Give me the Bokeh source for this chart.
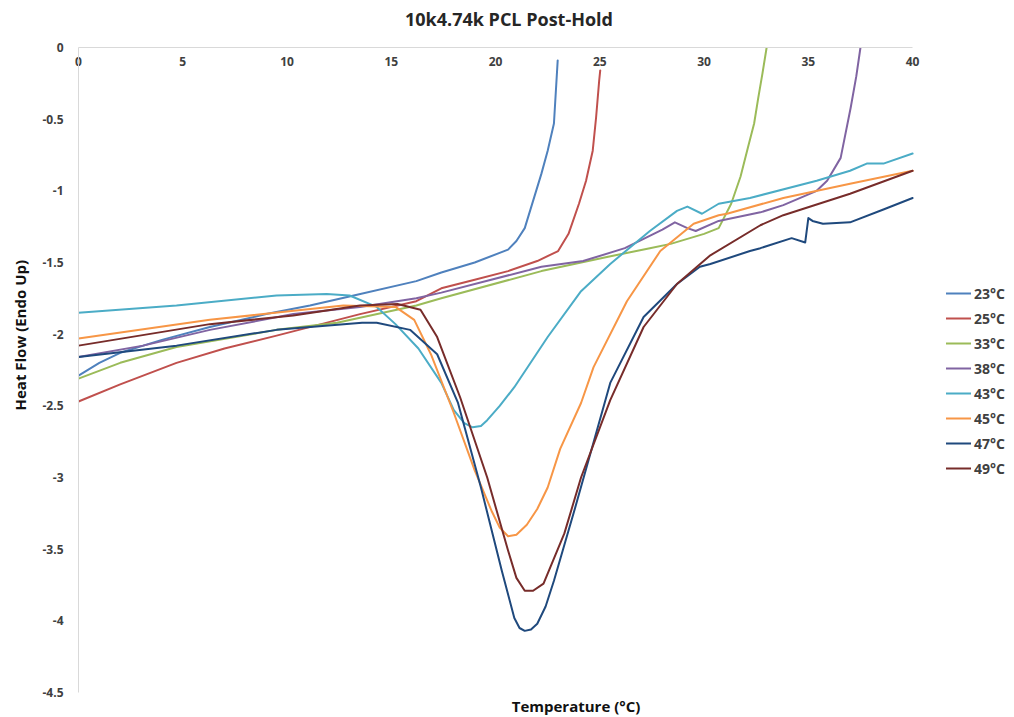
from bokeh.plotting import figure
from bokeh.models import Range1d, FixedTicker, Legend, LegendItem, Title
from bokeh.embed import file_html
from bokeh.resources import INLINE

# ---------------- data ----------------
title_text = "10k4.74k PCL Post-Hold"
x_title = "Temperature (°C)"
y_title = "Heat Flow (Endo Up)"

x_ticks = [0, 5, 10, 15, 20, 25, 30, 35, 40]
y_ticks = [0, -0.5, -1, -1.5, -2, -2.5, -3, -3.5, -4, -4.5]
y_tick_labels = ["0", "-0.5", "-1", "-1.5", "-2", "-2.5", "-3", "-3.5", "-4", "-4.5"]

series_names = ["23°C", "25°C", "33°C", "38°C", "43°C", "45°C", "47°C", "49°C"]
series_colors = ["#4F81BD", "#C0504D", "#9BBB59", "#8064A2", "#4BACC6", "#F79646", "#1F497D", "#772C2A"]

t23 = [0, 1, 2, 4, 6.3, 9, 11.1, 13.2, 16.2, 17.4, 19, 20.6, 21.0, 21.4, 21.8, 22.2, 22.5, 22.8, 22.98]
h23 = [-2.29, -2.20, -2.13, -2.04, -1.95, -1.86, -1.80, -1.73, -1.63, -1.57, -1.50, -1.41, -1.35, -1.26, -1.07, -0.88, -0.72, -0.53, -0.09]

t25 = [0, 2, 4.7, 7, 9.5, 13.5, 16.2, 17.4, 19, 20.6, 22, 23.0, 23.5, 24.0, 24.34, 24.66, 24.82, 24.97, 25.02]
h25 = [-2.47, -2.35, -2.20, -2.10, -2.01, -1.86, -1.77, -1.68, -1.62, -1.56, -1.49, -1.42, -1.30, -1.09, -0.93, -0.72, -0.49, -0.23, -0.16]

t33 = [0, 2, 4.7, 9.5, 12.4, 16.2, 17.4, 22.2, 25.4, 27.4, 28.4, 30.0, 30.7, 31.3, 31.75, 32.1, 32.4, 32.6, 32.8, 33.0]
h33 = [-2.31, -2.20, -2.09, -1.97, -1.92, -1.80, -1.75, -1.56, -1.46, -1.40, -1.37, -1.30, -1.26, -1.09, -0.90, -0.70, -0.53, -0.35, -0.18, 0.0]

t38 = [0, 3.1, 6.3, 10.3, 13.5, 16.2, 17.4, 22.2, 24.2, 26.2, 28.0, 28.6, 29.2, 29.6, 30.7, 32.7, 33.8, 35.4, 35.9, 36.55, 37.03, 37.3, 37.5]
h38 = [-2.16, -2.08, -1.97, -1.86, -1.81, -1.75, -1.71, -1.53, -1.49, -1.40, -1.27, -1.22, -1.26, -1.28, -1.21, -1.15, -1.10, -1.00, -0.93, -0.77, -0.42, -0.20, 0.0]

t43 = [0, 4.7, 9.5, 11.9, 13.0, 14.3, 15.2, 16.3, 17.4, 18.0, 18.5, 18.9, 19.3, 19.6, 20.2, 20.9, 22.5, 24.1, 25.5, 27.4, 28.7, 29.2, 29.9, 30.7, 32.2, 35.4, 37.0, 37.8, 38.6, 40.0]
h43 = [-1.85, -1.80, -1.73, -1.72, -1.73, -1.81, -1.93, -2.10, -2.34, -2.53, -2.62, -2.65, -2.64, -2.60, -2.50, -2.37, -2.02, -1.70, -1.51, -1.28, -1.14, -1.11, -1.16, -1.09, -1.05, -0.93, -0.86, -0.81, -0.81, -0.74]

t45 = [0, 6.3, 12.7, 15.2, 16.1, 16.9, 18.0, 19.0, 19.8, 20.2, 20.6, 21.0, 21.5, 22.0, 22.5, 23.1, 24.1, 24.7, 26.3, 27.9, 29.5, 30.7, 31.1, 33.8, 37.0, 40.0]
h45 = [-2.03, -1.90, -1.80, -1.81, -1.90, -2.14, -2.55, -2.95, -3.23, -3.35, -3.41, -3.40, -3.33, -3.22, -3.07, -2.80, -2.48, -2.23, -1.77, -1.42, -1.23, -1.17, -1.16, -1.05, -0.95, -0.86]

t47 = [0, 4.7, 9.5, 13.6, 14.3, 15.9, 17.2, 18.2, 19.3, 20.3, 20.9, 21.15, 21.4, 21.7, 22.0, 22.4, 22.8, 23.8, 25.5, 27.1, 28.7, 29.8, 30.3, 32.2, 32.7, 34.2, 34.85, 35.0, 35.2, 35.7, 37.0, 38.6, 40.0]
h47 = [-2.16, -2.08, -1.97, -1.92, -1.92, -1.97, -2.14, -2.48, -3.07, -3.65, -3.98, -4.05, -4.07, -4.06, -4.02, -3.90, -3.72, -3.22, -2.34, -1.88, -1.65, -1.53, -1.51, -1.42, -1.40, -1.33, -1.36, -1.19, -1.21, -1.23, -1.22, -1.13, -1.05]

t49 = [0, 6.3, 10.3, 13.5, 15.3, 16.4, 17.2, 18.3, 19.6, 20.6, 21.0, 21.4, 21.8, 22.3, 23.3, 24.1, 25.5, 27.1, 28.7, 30.3, 32.7, 33.8, 37.0, 40.0]
h49 = [-2.08, -1.93, -1.87, -1.80, -1.79, -1.83, -2.02, -2.44, -3.00, -3.51, -3.70, -3.79, -3.79, -3.74, -3.39, -3.00, -2.46, -1.95, -1.65, -1.45, -1.24, -1.17, -1.02, -0.86]

series_t = [t23, t25, t33, t38, t43, t45, t47, t49]
series_h = [h23, h25, h33, h38, h43, h45, h47, h49]

# ---------------- figure ----------------
FONT = "Open Sans"
TXT = "#404040"

# the frame also holds the legend strip at the right; the axis itself stops at 40
X_AXIS_MAX = 40
X_VIEW_MAX = 40 * 935 / 835

p = figure(width=1012, height=716, output_backend="svg", toolbar_location=None,
           x_range=Range1d(0, X_VIEW_MAX), y_range=Range1d(-4.5, 0),
           x_axis_location="above",
           min_border_left=77, min_border_top=47, min_border_right=0, min_border_bottom=24)
p.outline_line_color = None
p.xgrid.visible = False
p.ygrid.visible = False
p.background_fill_color = "white"
p.border_fill_color = "white"

xa = p.xaxis[0]
xa.bounds = (0, X_AXIS_MAX)
xa.ticker = FixedTicker(ticks=x_ticks)
xa.axis_line_color = "#D9D9D9"
xa.major_tick_line_color = None
xa.minor_tick_line_color = None
xa.major_tick_out = 0
xa.major_tick_in = 0
xa.minor_tick_out = 0
xa.major_label_standoff = -18
xa.major_label_text_font = FONT
xa.major_label_text_font_style = "bold"
xa.major_label_text_font_size = "12px"
xa.major_label_text_color = TXT

ya = p.yaxis[0]
ya.ticker = FixedTicker(ticks=y_ticks)
ya.major_label_overrides = {v: s for v, s in zip(y_ticks, y_tick_labels)}
ya.axis_line_color = "#D9D9D9"
ya.major_tick_line_color = None
ya.minor_tick_line_color = None
ya.major_tick_out = 0
ya.major_tick_in = 0
ya.minor_tick_out = 0
ya.major_label_standoff = 15
ya.major_label_text_font = FONT
ya.major_label_text_font_style = "bold"
ya.major_label_text_font_size = "12px"
ya.major_label_text_color = TXT

items = []
for name, col, t, h in zip(series_names, series_colors, series_t, series_h):
    r = p.line(t, h, line_color=col, line_width=2, line_join="round", line_cap="round")
    items.append(LegendItem(label=name, renderers=[r]))

legend = Legend(items=items, location=(868, 214), orientation="vertical",
                glyph_width=25, glyph_height=20, label_height=20, spacing=5,
                label_standoff=3, padding=0, margin=0,
                border_line_color=None, background_fill_alpha=0,
                label_text_font=FONT, label_text_font_style="bold",
                label_text_font_size="14px", label_text_color=TXT)
p.add_layout(legend, "center")


def set_pad(t, pad):
    if "padding" in Title.properties():
        try:
            t.padding = pad
        except Exception:
            pass
    return t


main_title = Title(text=title_text, align="center", standoff=0,
                   text_font=FONT, text_font_style="bold", text_font_size="18px",
                   text_color="#262626")
set_pad(main_title, dict(left=0, right=73, top=0, bottom=17))
p.add_layout(main_title, "above")

xt = Title(text=x_title, align="center", standoff=2,
           text_font=FONT, text_font_style="bold", text_font_size="15px",
           text_color="#111111")
set_pad(xt, dict(left=61, right=0, top=0, bottom=0))
p.add_layout(xt, "below")

yt = Title(text=y_title, align="left", offset=282, standoff=17, vertical_align="middle",
           text_font=FONT, text_font_style="bold", text_font_size="15px",
           text_color="#111111")
p.add_layout(yt, "left")

open("out.html", "w").write(file_html(p, INLINE))
